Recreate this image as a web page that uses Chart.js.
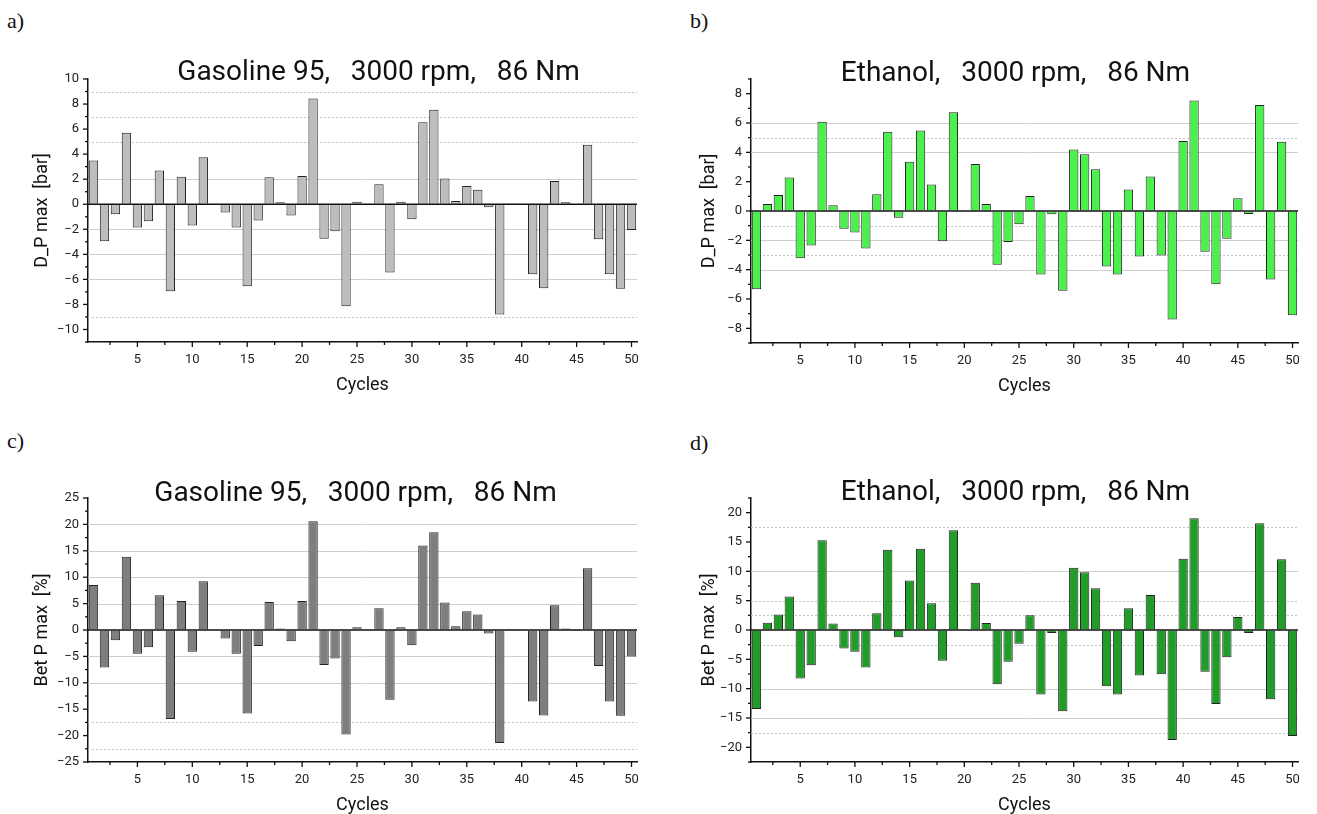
<!DOCTYPE html>
<html>
<head>
<meta charset="utf-8">
<script src="https://cdn.jsdelivr.net/npm/chart.js@4.4.0/dist/chart.umd.min.js"></script>
<style>
  html, body { margin: 0; padding: 0; background: #fff; overflow: hidden; }
  body { position: relative; width: 1317px; height: 814px; }
  canvas { position: absolute; }
  .tag { position: absolute; font-family: 'Liberation Serif', 'Times New Roman', serif; font-size: 22px; color: #111; }
</style>
</head>
<body>
<div class="tag" style="left:7px;top:8px">a)</div>
<div class="tag" style="left:690px;top:8px">b)</div>
<div class="tag" style="left:7px;top:428px">c)</div>
<div class="tag" style="left:690px;top:430px">d)</div>

<canvas id="dpGasoline" width="660" height="380" style="left:0;top:40px"></canvas>
<canvas id="dpEthanol" width="657" height="380" style="left:660px;top:40px"></canvas>
<canvas id="betGasoline" width="660" height="380" style="left:0;top:440px"></canvas>
<canvas id="betEthanol" width="657" height="380" style="left:660px;top:440px"></canvas>

<script>
const cycles = [1, 2, 3, 4, 5, 6, 7, 8, 9, 10, 11, 12, 13, 14, 15, 16, 17, 18, 19, 20,
  21, 22, 23, 24, 25, 26, 27, 28, 29, 30, 31, 32, 33, 34, 35, 36, 37, 38, 39, 40,
  41, 42, 43, 44, 45, 46, 47, 48, 49, 50];

// D_P max [bar]
const gasolineDp = [3.5, -2.95, -0.8, 5.7, -1.85, -1.35, 2.7, -6.95, 2.2, -1.7,
  3.75, 0, -0.65, -1.85, -6.55, -1.3, 2.15, 0.15, -0.9, 2.25,
  8.45, -2.75, -2.15, -8.15, 0.2, 0, 1.6, -5.45, 0.2, -1.2,
  6.55, 7.55, 2.05, 0.25, 1.45, 1.15, -0.25, -8.8, 0.05, 0,
  -5.6, -6.7, 1.85, 0.15, -0.05, 4.75, -2.8, -5.6, -6.75, -2.05];
const ethanolDp = [-5.33, 0.48, 1.09, 2.28, -3.23, -2.35, 6.08, 0.39, -1.21, -1.46,
  -2.55, 1.14, 5.4, -0.46, 3.35, 5.49, 1.8, -2.07, 6.74, 0,
  3.21, 0.48, -3.67, -2.12, -0.91, 1.03, -4.33, -0.23, -5.44, 4.19,
  3.87, 2.85, -3.78, -4.33, 1.46, -3.1, 2.35, -3.03, -7.4, 4.78,
  7.54, -2.78, -4.99, -1.89, 0.87, -0.2, 7.22, -4.67, 4.72, -7.11];

// Bet P max [%]
const gasolineBet = [8.5, -7.1, -1.95, 13.85, -4.5, -3.25, 6.6, -16.85, 5.5, -4.1,
  9.25, 0, -1.6, -4.5, -15.8, -3.05, 5.3, 0.3, -2.15, 5.5,
  20.6, -6.65, -5.4, -19.8, 0.5, 0, 4.1, -13.2, 0.5, -2.9,
  16.0, 18.5, 5.2, 0.7, 3.55, 2.95, -0.65, -21.4, 0.2, 0,
  -13.55, -16.2, 4.7, 0.3, -0.2, 11.7, -6.8, -13.55, -16.25, -5.0];
const ethanolBet = [-13.45, 1.25, 2.65, 5.7, -8.25, -6.0, 15.3, 1.1, -3.15, -3.7,
  -6.4, 2.85, 13.7, -1.25, 8.45, 13.85, 4.55, -5.25, 17.0, 0,
  8.05, 1.2, -9.25, -5.4, -2.35, 2.5, -11.0, -0.5, -13.85, 10.6,
  9.85, 7.1, -9.6, -11.0, 3.7, -7.75, 5.95, -7.55, -18.75, 12.15,
  19.05, -7.1, -12.6, -4.65, 2.2, -0.5, 18.2, -11.8, 12.05, -18.05];

// tick marks along the cycle axis and the ones that carry a label
const xTickValues = [2.5, 5, 7.5, 10, 12.5, 15, 17.5, 20, 22.5, 25, 27.5, 30, 32.5, 35,
  37.5, 40, 42.5, 45, 47.5, 50];
const xLabels = [5, 10, 15, 20, 25, 30, 35, 40, 45, 50];

const dpGasolineLabels = [-10, -8, -6, -4, -2, 0, 2, 4, 6, 8, 10];
const dpEthanolLabels = [-8, -6, -4, -2, 0, 2, 4, 6, 8];
const betGasolineLabels = [-25, -20, -15, -10, -5, 0, 5, 10, 15, 20, 25];
const betEthanolLabels = [-20, -15, -10, -5, 0, 5, 10, 15, 20];

const FONT = 'Roboto';

const fmt = v => (v < 0 ? '\u2212' + Math.abs(v) : String(v));

function hline(ctx, area, py) {
  const y = Math.round(py) + 0.5;
  ctx.beginPath();
  ctx.moveTo(area.left, y);
  ctx.lineTo(area.right, y);
  ctx.stroke();
}

// guide lines, zero line, tick marks and heading
const panelDecor = {
  id: 'panelDecor',
  beforeDatasetsDraw(chart, args, opts) {
    const { ctx, chartArea, scales: { y } } = chart;
    ctx.save();
    ctx.lineWidth = 1;
    ctx.strokeStyle = '#cfcfcf';
    opts.solid.forEach(v => hline(ctx, chartArea, y.getPixelForValue(v)));
    ctx.setLineDash([2, 2]);
    ctx.strokeStyle = '#c4c4c4';
    opts.dotted.forEach(v => hline(ctx, chartArea, y.getPixelForValue(v)));
    ctx.restore();
  },
  afterDatasetsDraw(chart) {
    const { ctx, chartArea, scales: { y } } = chart;
    ctx.save();
    ctx.lineWidth = 1.5;
    ctx.strokeStyle = '#111';
    const py = y.getPixelForValue(0);
    ctx.beginPath();
    ctx.moveTo(chartArea.left, py);
    ctx.lineTo(chartArea.right, py);
    ctx.stroke();
    ctx.restore();
  },
  afterDraw(chart, args, opts) {
    const { ctx, chartArea, scales: { x, y } } = chart;
    ctx.save();
    ctx.strokeStyle = '#111';
    ctx.lineWidth = 1.3;
    y.ticks.forEach(t => {
      const py = y.getPixelForValue(t.value);
      const len = t.label !== '' ? 5 : 3;
      ctx.beginPath();
      ctx.moveTo(chartArea.left - len, py);
      ctx.lineTo(chartArea.left, py);
      ctx.stroke();
    });
    x.ticks.forEach(t => {
      const px = x.getPixelForValue(t.value);
      const len = t.label !== '' ? 5 : 3;
      ctx.beginPath();
      ctx.moveTo(px, chartArea.bottom);
      ctx.lineTo(px, chartArea.bottom + len);
      ctx.stroke();
    });
    ctx.fillStyle = '#111';
    ctx.font = '28px ' + FONT;
    ctx.textAlign = 'center';
    ctx.textBaseline = 'alphabetic';
    ctx.fillText(opts.heading, (chartArea.left + chartArea.right) / 2 + opts.dx, chartArea.top + opts.dy);
    ctx.restore();
  }
};

function panel(id, cfg) {
  const yTickValues = [];
  for (let v = cfg.yMin; v <= cfg.yMax + 1e-9; v += cfg.yStep) {
    yTickValues.push(Math.round(v * 100) / 100);
  }
  return new Chart(document.getElementById(id), {
    type: 'bar',
    data: {
      labels: cycles,
      datasets: [{
        data: cfg.values,
        backgroundColor: cfg.fill,
        borderColor: '#222',
        borderWidth: 1,
        barPercentage: 0.85,
        categoryPercentage: 1
      }]
    },
    options: {
      responsive: false,
      animation: false,
      layout: { padding: cfg.padding },
      plugins: {
        legend: { display: false },
        tooltip: { enabled: false },
        panelDecor: { heading: cfg.heading, dx: cfg.dx, dy: cfg.dy, solid: cfg.solid, dotted: cfg.dotted }
      },
      scales: {
        x: {
          type: 'linear',
          min: 0.5,
          max: 50.5,
          offset: false,
          afterBuildTicks: s => { s.ticks = xTickValues.map(v => ({ value: v })); },
          afterFit: s => { s.height = 54; },
          grid: { display: true, drawOnChartArea: false, drawTicks: false, offset: false },
          border: { color: '#111', width: 1.5 },
          ticks: {
            autoSkip: false, maxRotation: 0, padding: 10, color: '#222',
            font: { family: FONT, size: 13 },
            callback: v => (xLabels.includes(v) ? String(v) : '')
          },
          title: { display: true, text: 'Cycles', color: '#111', padding: 0, font: { family: FONT, size: 18 } }
        },
        y: {
          min: cfg.yMin,
          max: cfg.yMax,
          afterBuildTicks: s => { s.ticks = yTickValues.map(v => ({ value: v })); },
          afterFit: s => { s.width = cfg.yWidth; },
          grid: { display: true, drawOnChartArea: false, drawTicks: false },
          border: { color: '#111', width: 1.5 },
          ticks: {
            autoSkip: false, padding: 9, color: '#222',
            font: { family: FONT, size: 13 },
            callback: v => (cfg.labels.includes(v) ? fmt(v) : '')
          },
          title: { display: true, text: cfg.yTitle, color: '#111', padding: 0, font: { family: FONT, size: 18 } }
        }
      }
    },
    plugins: [panelDecor]
  });
}

panel('dpGasoline', {
  values: gasolineDp, fill: '#bdbdbd', labels: dpGasolineLabels,
  yMin: -11, yMax: 10, yStep: 1, yWidth: 56, yTitle: 'D_P max  [bar]',
  heading: 'Gasoline 95,   3000 rpm,   86 Nm', dx: 16, dy: 1,
  solid: [2, -2, -4, -6], dotted: [9, 7, 5, -9],
  padding: { left: 32, right: 23, top: 39, bottom: 24 }
});

panel('dpEthanol', {
  values: ethanolDp, fill: '#4cf04c', labels: dpEthanolLabels,
  yMin: -9, yMax: 9, yStep: 1, yWidth: 52, yTitle: 'D_P max  [bar]',
  heading: 'Ethanol,   3000 rpm,   86 Nm', dx: -9, dy: 2,
  solid: [6, 4, -2, -4], dotted: [5, -1, -3],
  padding: { left: 39, right: 19, top: 39, bottom: 23 }
});

panel('betGasoline', {
  values: gasolineBet, fill: '#7e7e7e', labels: betGasolineLabels,
  yMin: -25, yMax: 25, yStep: 2.5, yWidth: 56, yTitle: 'Bet P max  [%]',
  heading: 'Gasoline 95,   3000 rpm,   86 Nm', dx: -7, dy: 3,
  solid: [20, 15, 10, 5, -5, -10], dotted: [-17.5, -22.5],
  padding: { left: 32, right: 23, top: 58, bottom: 4 }
});

panel('betEthanol', {
  values: ethanolBet, fill: '#219c29', labels: betEthanolLabels,
  yMin: -22.5, yMax: 22.5, yStep: 2.5, yWidth: 52, yTitle: 'Bet P max  [%]',
  heading: 'Ethanol,   3000 rpm,   86 Nm', dx: -9, dy: 2,
  solid: [10, -10, -15], dotted: [17.5, 5, 2.5, -2.5, -17.5],
  padding: { left: 39, right: 19, top: 58, bottom: 4 }
});
</script>
</body>
</html>
